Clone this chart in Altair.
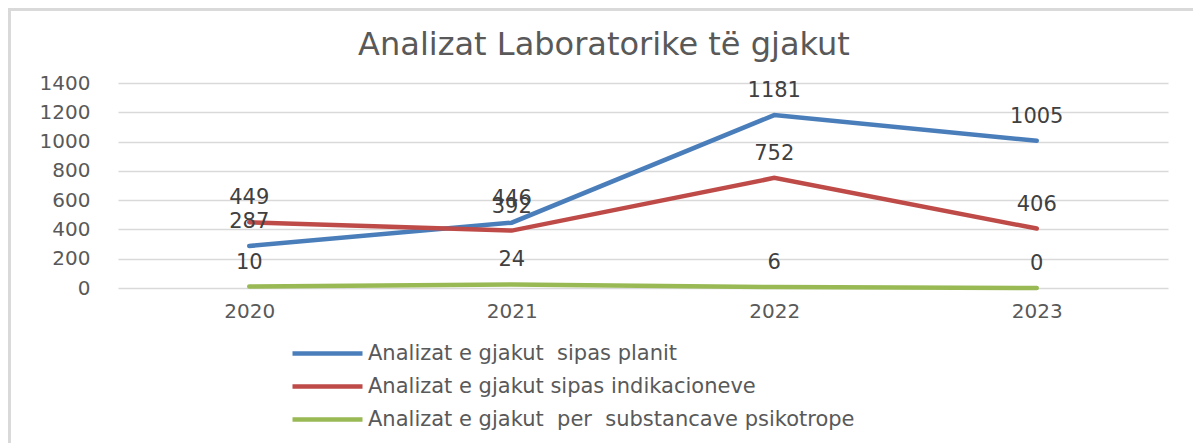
import altair as alt
import pandas as pd

years = ["2020", "2021", "2022", "2023"]
series_names = [
    "Analizat e gjakut  sipas planit",
    "Analizat e gjakut sipas indikacioneve",
    "Analizat e gjakut  per  substancave psikotrope",
]
planit = [287, 446, 1181, 1005]
indikacioneve = [449, 392, 752, 406]
psikotrope = [10, 24, 6, 0]
colors = ["#4a7ebb", "#be4b48", "#98b954"]
y_ticks = [0, 200, 400, 600, 800, 1000, 1200, 1400]

rows = []
for name, vals in zip(series_names, [planit, indikacioneve, psikotrope]):
    for y, v in zip(years, vals):
        rows.append({"Viti": y, "Seria": name, "Vlera": v})
df = pd.DataFrame(rows)

FONT = "DejaVu Sans"
GRAY = "#595959"

x = alt.X("Viti:O", title=None,
          axis=alt.Axis(labelAngle=0, domain=False, ticks=False, labelFontSize=20,
                        labelColor=GRAY, labelFont=FONT, labelPadding=13))
y = alt.Y("Vlera:Q", title=None,
          scale=alt.Scale(domain=[0, 1400], nice=False),
          axis=alt.Axis(values=y_ticks, format="d", labelOverlap=False, domain=False,
                        ticks=False, labelFontSize=20, labelColor=GRAY, labelFont=FONT,
                        labelPadding=28, gridColor="#d9d9d9", gridWidth=1.5))
color = alt.Color("Seria:N", title=None,
                  scale=alt.Scale(domain=series_names, range=colors),
                  legend=alt.Legend(orient="none", legendX=197, legendY=258,
                                    direction="vertical", symbolType="M-3.5,0H3.5",
                                    symbolSize=400, symbolStrokeWidth=4.5,
                                    symbolFillColor="transparent",
                                    labelExpr="replace(replace(datum.label, '  ', '\u00a0 '), '  ', '\u00a0 ')",
                                    labelFontSize=21, labelColor=GRAY, labelFont=FONT,
                                    labelOffset=28, rowPadding=10, labelLimit=800))

base = alt.Chart(df)
lines = base.mark_line(strokeWidth=4.5, strokeCap="round").encode(x=x, y=y, color=color)
labels = base.mark_text(dy=-24, fontSize=21, font=FONT, color="#404040").encode(
    x=x, y=y, text="Vlera:Q")
border = alt.Chart(df).mark_rect(fill=None, stroke="#d9d9d9", strokeWidth=3).encode(
    x=alt.value(-109), x2=alt.value(1100), y=alt.value(-74), y2=alt.value(400))

chart = alt.layer(border, lines, labels).properties(
    width=1050, height=205,
    title=alt.TitleParams("Analizat Laboratorike të gjakut", fontSize=32, font=FONT,
                          color=GRAY, fontWeight="normal", anchor="middle", frame="group",
                          offset=0, dy=54, dx=-39),
    autosize=alt.AutoSizeParams(type="none"),
    padding={"left": 110, "top": 75, "right": 25, "bottom": 155},
).configure(background="white").configure_view(stroke="transparent")

chart.save("out.html", embed_options={"renderer": "svg", "actions": False})
